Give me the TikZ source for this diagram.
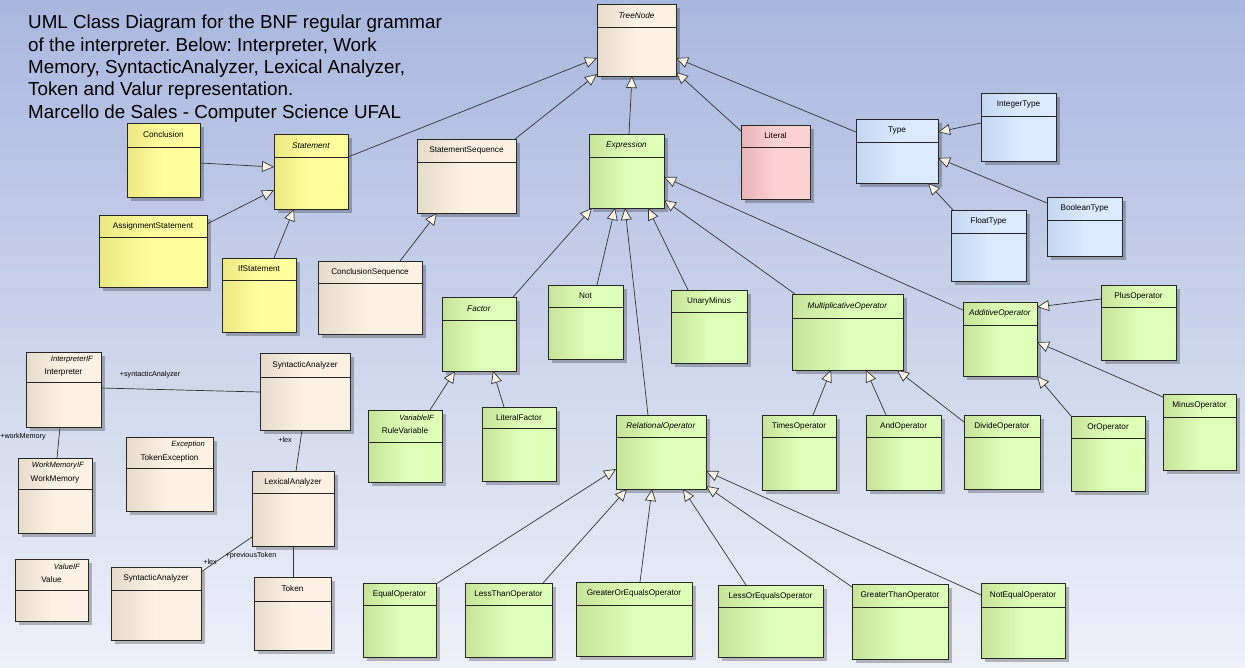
\documentclass[tikz,border=0pt]{standalone}
\usepackage{fontspec}
\setmainfont{Liberation Sans}
\usetikzlibrary{arrows.meta,calc}
\frenchspacing

% palette
\definecolor{bgtop}{HTML}{A8B8DE}
\definecolor{bgbot}{HTML}{EEF0F8}
\definecolor{creamD}{HTML}{E6DCCB}
\definecolor{creamL}{HTML}{FBF2E3}
\definecolor{yellowD}{HTML}{ECE782}
\definecolor{yellowL}{HTML}{FFFF9E}
\definecolor{greenD}{HTML}{C6E39A}
\definecolor{greenL}{HTML}{DEFFB8}
\definecolor{blueD}{HTML}{C2D7F0}
\definecolor{blueL}{HTML}{DAEAFF}
\definecolor{pinkD}{HTML}{E8B4B8}
\definecolor{pinkL}{HTML}{FFD2D2}
\definecolor{arrowfill}{HTML}{FDF6E8}

\tikzset{
  umlbox/.style={draw=black!85, line width=0.8pt, inner sep=0pt, outer sep=0pt,
                 anchor=north west, rectangle},
  creamc/.style={left color=creamD, right color=creamL, middle color=creamL},
  yellowc/.style={left color=yellowD, right color=yellowL, middle color=yellowL},
  greenc/.style={left color=greenD, right color=greenL, middle color=greenL},
  bluec/.style={left color=blueD, right color=blueL, middle color=blueL},
  pinkc/.style={left color=pinkD, right color=pinkL, middle color=pinkL},
  shadowfill/.style={fill=black, opacity=0.25},
  hdr/.style={draw=black!85, line width=0.8pt},
  lbl/.style={inner sep=0pt, font=\fontsize{8.2}{10}\selectfont},
  stereo/.style={inner sep=0pt, font=\fontsize{7.6}{9}\selectfont\itshape, anchor=east},
  rolelbl/.style={inner sep=0pt, font=\fontsize{7.2}{9}\selectfont},
  gen/.style={draw=black!80, line width=0.7pt,
              -{Triangle[length=12pt,width=11pt,fill=arrowfill]}},
  assoc/.style={draw=black!80, line width=0.7pt},
}

% class box: name, colour, x1, y1, x2, y2, header line y, title
\newcommand\umlcls[8]{%
  \fill[shadowfill] (#3+3.5,#4+3.5) rectangle (#5+3.5,#6+3.5);
  \node[umlbox,#2,minimum width={#5-#3},minimum height={#6-#4}] (#1) at (#3,#4) {};
  \draw[hdr] (#3,#7) -- (#5,#7);
  \node[lbl] (#1-t) at ({(#3+#5)/2},{(#4+#7)/2}) {#8};
}
% class box with a stereotype line above the title
\newcommand\umlclsst[9]{%
  \fill[shadowfill] (#3+3.5,#4+3.5) rectangle (#5+3.5,#6+3.5);
  \node[umlbox,#2,minimum width={#5-#3},minimum height={#6-#4}] (#1) at (#3,#4) {};
  \draw[hdr] (#3,#7) -- (#5,#7);
  \node[stereo] (#1-s) at (#5-8,#4+7.5) {#8};
  \node[lbl] (#1-t) at ({(#3+#5)/2},#4+21) {#9};
}

\begin{document}
\begin{tikzpicture}[x=1pt,y=-1pt]
\useasboundingbox (0,0) rectangle (1245,667);
\shade[top color=bgtop, bottom color=bgbot] (0,0) rectangle (1245,667);

% heading
\node[anchor=north west, inner sep=0pt, align=left,
      font=\fontsize{18.8}{22.3}\selectfont] (title) at (28,15)
  {UML Class Diagram for the BNF regular grammar\\
   of the interpreter. Below: Interpreter, Work\\
   Memory, SyntacticAnalyzer, Lexical Analyzer,\\
   Token and Valur representation.\\
   Marcello de Sales - Computer Science UFAL};

% root and statements
\umlcls{tree}{creamc}{597}{4}{676}{76}{27}{\textit{TreeNode}}
\umlcls{stmt}{yellowc}{274}{134}{348}{209}{157}{\textit{Statement}}
\umlcls{concl}{yellowc}{127}{123}{200}{197}{147}{Conclusion}
\umlcls{assign}{yellowc}{99}{215}{207}{287}{237}{AssignmentStatement}
\umlcls{ifst}{yellowc}{222}{258}{296}{332}{280}{IfStatement}
\umlcls{stseq}{creamc}{417}{139}{516}{213}{162}{StatementSequence}
\umlcls{conseq}{creamc}{318}{261}{422}{334}{283}{ConclusionSequence}
\umlcls{literal}{pinkc}{741}{125}{810}{199}{147}{Literal}

% types
\umlcls{type}{bluec}{856}{119}{938}{183}{142}{Type}
\umlcls{intt}{bluec}{981}{93}{1056}{161}{116}{IntegerType}
\umlcls{floatt}{bluec}{951}{210}{1026}{281}{233}{FloatType}
\umlcls{boolt}{bluec}{1047}{197}{1122}{256}{220}{BooleanType}

% expressions
\umlcls{expr}{greenc}{589}{134}{664}{208}{157}{\textit{Expression}}
\umlcls{factor}{greenc}{442}{297}{516}{371}{320}{\textit{Factor}}
\umlcls{notc}{greenc}{548}{285}{623}{359}{307}{Not}
\umlcls{uminus}{greenc}{671}{290}{747}{363}{312}{UnaryMinus}
\umlclsst{rulevar}{greenc}{368}{410}{442}{482}{442}{VariableIF}{RuleVariable}
\umlcls{litfac}{greenc}{482}{407}{556}{481}{428}{LiteralFactor}
\umlcls{relop}{greenc}{616}{415}{706}{489}{437}{\textit{RelationalOperator}}
\umlcls{mulop}{greenc}{792}{294}{903}{370}{318}{\textit{MultiplicativeOperator}}
\umlcls{addop}{greenc}{963}{302}{1037}{376}{325}{\textit{AdditiveOperator}}
\umlcls{plus}{greenc}{1101}{285}{1176}{360}{307}{PlusOperator}
\umlcls{times}{greenc}{762}{415}{836}{490}{437}{TimesOperator}
\umlcls{andop}{greenc}{866}{415}{941}{490}{437}{AndOperator}
\umlcls{divop}{greenc}{964}{415}{1040}{489}{437}{DivideOperator}
\umlcls{orop}{greenc}{1071}{416}{1145}{491}{438}{OrOperator}
\umlcls{minus}{greenc}{1163}{394}{1236}{470}{417}{MinusOperator}
\umlcls{eq}{greenc}{363}{583}{436}{657}{605}{EqualOperator}
\umlcls{lt}{greenc}{465}{583}{552}{657}{605}{LessThanOperator}
\umlcls{ge}{greenc}{576}{582}{692}{656}{605}{GreaterOrEqualsOperator}
\umlcls{le}{greenc}{718}{585}{823}{657}{607}{LessOrEqualsOperator}
\umlcls{gt}{greenc}{852}{584}{948}{659}{607}{GreaterThanOperator}
\umlcls{ne}{greenc}{981}{583}{1065}{658}{607}{NotEqualOperator}

% interpreter side
\umlclsst{interp}{creamc}{26}{352}{101}{427}{382}{InterpreterIF}{Interpreter}
\umlcls{syn}{creamc}{260}{353}{350}{430}{377}{SyntacticAnalyzer}
\umlclsst{wm}{creamc}{18}{458}{92}{533}{489}{WorkMemoryIF}{WorkMemory}
\umlclsst{tokex}{creamc}{126}{437}{213}{511}{468}{Exception}{TokenException}
\umlcls{lex}{creamc}{252}{471}{334}{546}{493}{LexicalAnalyzer}
\umlclsst{val}{creamc}{15}{559}{88}{621}{590}{ValueIF}{Value}
\umlcls{syn2}{creamc}{111}{567}{201}{640}{590}{SyntacticAnalyzer}
\umlcls{token}{creamc}{254}{577}{331}{650}{601}{Token}

% generalizations towards TreeNode
\draw[gen] ($(stmt.north west)+(74,23)$) -- ($(tree.north west)+(0,54)$);
\draw[gen] ($(stseq.north west)+(98,0)$) -- ($(tree.north west)+(0,70)$);
\draw[gen] ($(expr.north west)+(40,0)$) -- ($(tree.north west)+(35,72)$);
\draw[gen] ($(literal.north west)+(1,7)$) -- ($(tree.north west)+(79,68)$);
\draw[gen] ($(type.north west)+(0,13)$) -- ($(tree.north west)+(79,54)$);

% statements
\draw[gen] ($(concl.north west)+(73,40)$) -- ($(stmt.north west)+(0,33)$);
\draw[gen] ($(assign.north west)+(108,9)$) -- ($(stmt.north west)+(0,56)$);
\draw[gen] ($(ifst.north west)+(52,0)$) -- ($(stmt.north west)+(20,75)$);
\draw[gen] ($(conseq.north west)+(82,0)$) -- ($(stseq.north west)+(20,74)$);

% types
\draw[gen] ($(intt.north west)+(0,30)$) -- ($(type.north west)+(82,13)$);
\draw[gen] ($(boolt.north west)+(0,6)$) -- ($(type.north west)+(82,39)$);
\draw[gen] ($(floatt.north west)+(2,0)$) -- ($(type.north west)+(72,64)$);

% expressions
\draw[gen] ($(factor.north west)+(71,0)$) -- ($(expr.north west)+(3,74)$);
\draw[gen] ($(notc.north west)+(49,0)$) -- ($(expr.north west)+(26,74)$);
\draw[gen] ($(relop.north west)+(32,0)$) -- ($(expr.north west)+(36,74)$);
\draw[gen] ($(uminus.north west)+(17,0)$) -- ($(expr.north west)+(59,74)$);
\draw[gen] ($(mulop.north west)+(3,0)$) -- ($(expr.north west)+(75,66)$);
\draw[gen] ($(addop.north west)+(0,8)$) -- ($(expr.north west)+(75,43)$);

\draw[gen] ($(rulevar.north west)+(62,0)$) -- ($(factor.north west)+(13,74)$);
\draw[gen] ($(litfac.north west)+(22,0)$) -- ($(factor.north west)+(51,74)$);

\draw[gen] ($(times.north west)+(51,0)$) -- ($(mulop.north west)+(39,76)$);
\draw[gen] ($(andop.north west)+(20,0)$) -- ($(mulop.north west)+(74,76)$);
\draw[gen] ($(divop.north west)+(0,7)$) -- ($(mulop.north west)+(105,76)$);

\draw[gen] ($(plus.north west)+(0,14)$) -- ($(addop.north west)+(74,5)$);
\draw[gen] ($(minus.north west)+(0,3)$) -- ($(addop.north west)+(74,40)$);
\draw[gen] ($(orop.north west)+(0,0)$) -- ($(addop.north west)+(74,74)$);

\draw[gen] ($(eq.north west)+(73,1)$) -- ($(relop.north west)+(0,54)$);
\draw[gen] ($(lt.north west)+(78,0)$) -- ($(relop.north west)+(11,74)$);
\draw[gen] ($(ge.north west)+(64,0)$) -- ($(relop.north west)+(36,74)$);
\draw[gen] ($(le.north west)+(28,0)$) -- ($(relop.north west)+(67,74)$);
\draw[gen] ($(gt.north west)+(0,3)$) -- ($(relop.north west)+(90,71)$);
\draw[gen] ($(ne.north west)+(0,12)$) -- ($(relop.north west)+(90,56)$);

% associations
\draw[assoc] ($(interp.north west)+(75,36)$) -- ($(syn.north west)+(0,39)$);
\draw[assoc] ($(interp.north west)+(34,75)$) -- ($(wm.north west)+(39,0)$);
\draw[assoc] ($(syn.north west)+(42,77)$) -- ($(lex.north west)+(44,0)$);
\draw[assoc] ($(lex.north west)+(0,66)$) -- ($(syn2.north west)+(90,5)$);
\draw[assoc] ($(lex.north west)+(41,75)$) -- ($(token.north west)+(39,0)$);

% role names
\node[rolelbl] (r-syn) at (150,375) {+syntacticAnalyzer};
\node[rolelbl] (r-wm) at (23,437) {+workMemory};
\node[rolelbl] (r-lex1) at (285,440) {+lex};
\node[rolelbl] (r-lex2) at (210,562) {+lex};
\node[rolelbl] (r-prev) at (251,556) {+previousToken};
\end{tikzpicture}
\end{document}
